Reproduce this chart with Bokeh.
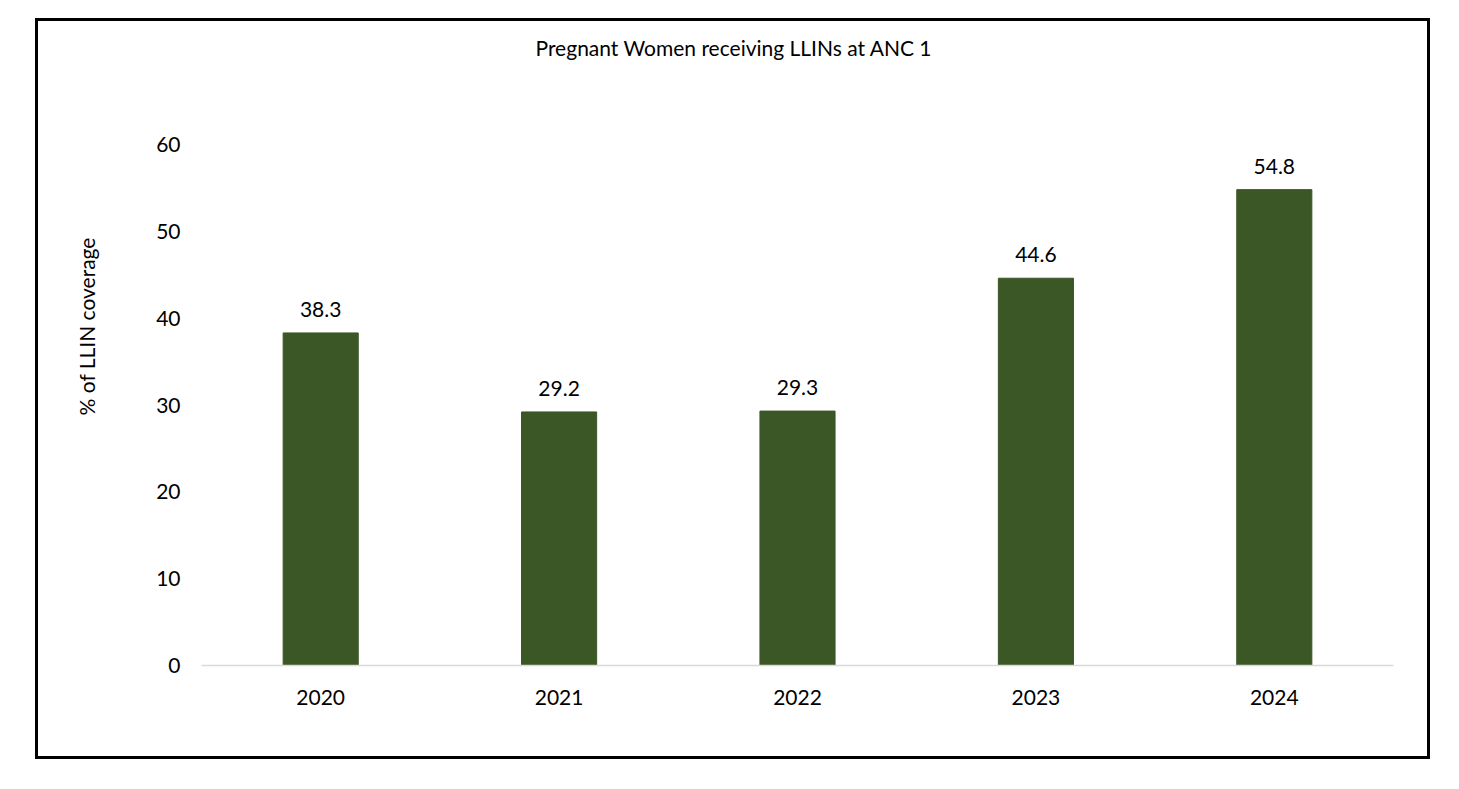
from bokeh.plotting import figure
from bokeh.models import ColumnDataSource, LabelSet, Title
from bokeh.core.properties import value
from bokeh.embed import file_html
from bokeh.resources import INLINE

years = ["2020", "2021", "2022", "2023", "2024"]
coverage = [38.3, 29.2, 29.3, 44.6, 54.8]
labels = ["38.3", "29.2", "29.3", "44.6", "54.8"]
y_ticks = [0, 10, 20, 30, 40, 50, 60]
title_text = "Pregnant Women receiving LLINs at ANC 1"
y_title = "% of LLIN coverage"

FONT = "Lato"
FS = "21px"
src = ColumnDataSource(dict(x=years, top=coverage, lab=labels))

p = figure(x_range=years, y_range=(0, 60), width=1395, height=741,
           output_backend="svg", toolbar_location=None,
           min_border_left=163, min_border_right=40, min_border_top=123, min_border_bottom=97,
           styles={"margin-left": "35px", "margin-top": "18px", "border": "3px solid black"})

p.vbar(x="x", top="top", width=0.315, source=src, color="#3B5725")
p.add_layout(LabelSet(x="x", y="top", text="lab", source=src, text_align="center",
                      text_baseline="alphabetic", y_offset=16, text_font_size=FS,
                      text_font=value(FONT), text_color="#000000"))

# chart title (spacer panel nearest the frame pushes it up)
p.add_layout(Title(text=" ", text_font_size="10px", standoff=67), "above")
p.add_layout(Title(text=title_text, align="left", offset=334, standoff=10,
                   text_font=FONT, text_font_size=FS, text_font_style="normal",
                   text_color="#000000"), "above")

p.outline_line_color = None
p.grid.visible = False

p.yaxis.ticker = y_ticks
p.yaxis.axis_line_color = None
p.yaxis.major_tick_line_color = None
p.yaxis.minor_tick_line_color = None
p.yaxis.major_label_standoff = 15
p.yaxis.major_label_text_font = FONT
p.yaxis.major_label_text_font_size = FS
p.yaxis.major_label_text_color = "#000000"

# vertical axis title, placed along the left side
p.add_layout(Title(text=" ", text_font_size="10px", standoff=40), "left")
p.add_layout(Title(text=y_title, align="left", offset=250, standoff=4,
                   text_font=FONT, text_font_size=FS, text_font_style="normal",
                   text_color="#000000"), "left")

p.xaxis.axis_line_color = "#D9D9D9"
p.xaxis.axis_line_width = 1.5
p.xaxis.major_tick_line_color = None
p.xaxis.minor_tick_line_color = None
p.xaxis.major_label_standoff = 18
p.xaxis.major_label_text_font = FONT
p.xaxis.major_label_text_font_size = FS
p.xaxis.major_label_text_color = "#000000"

p.x_range.range_padding = 0

open("out.html", "w").write(file_html(p, INLINE))
